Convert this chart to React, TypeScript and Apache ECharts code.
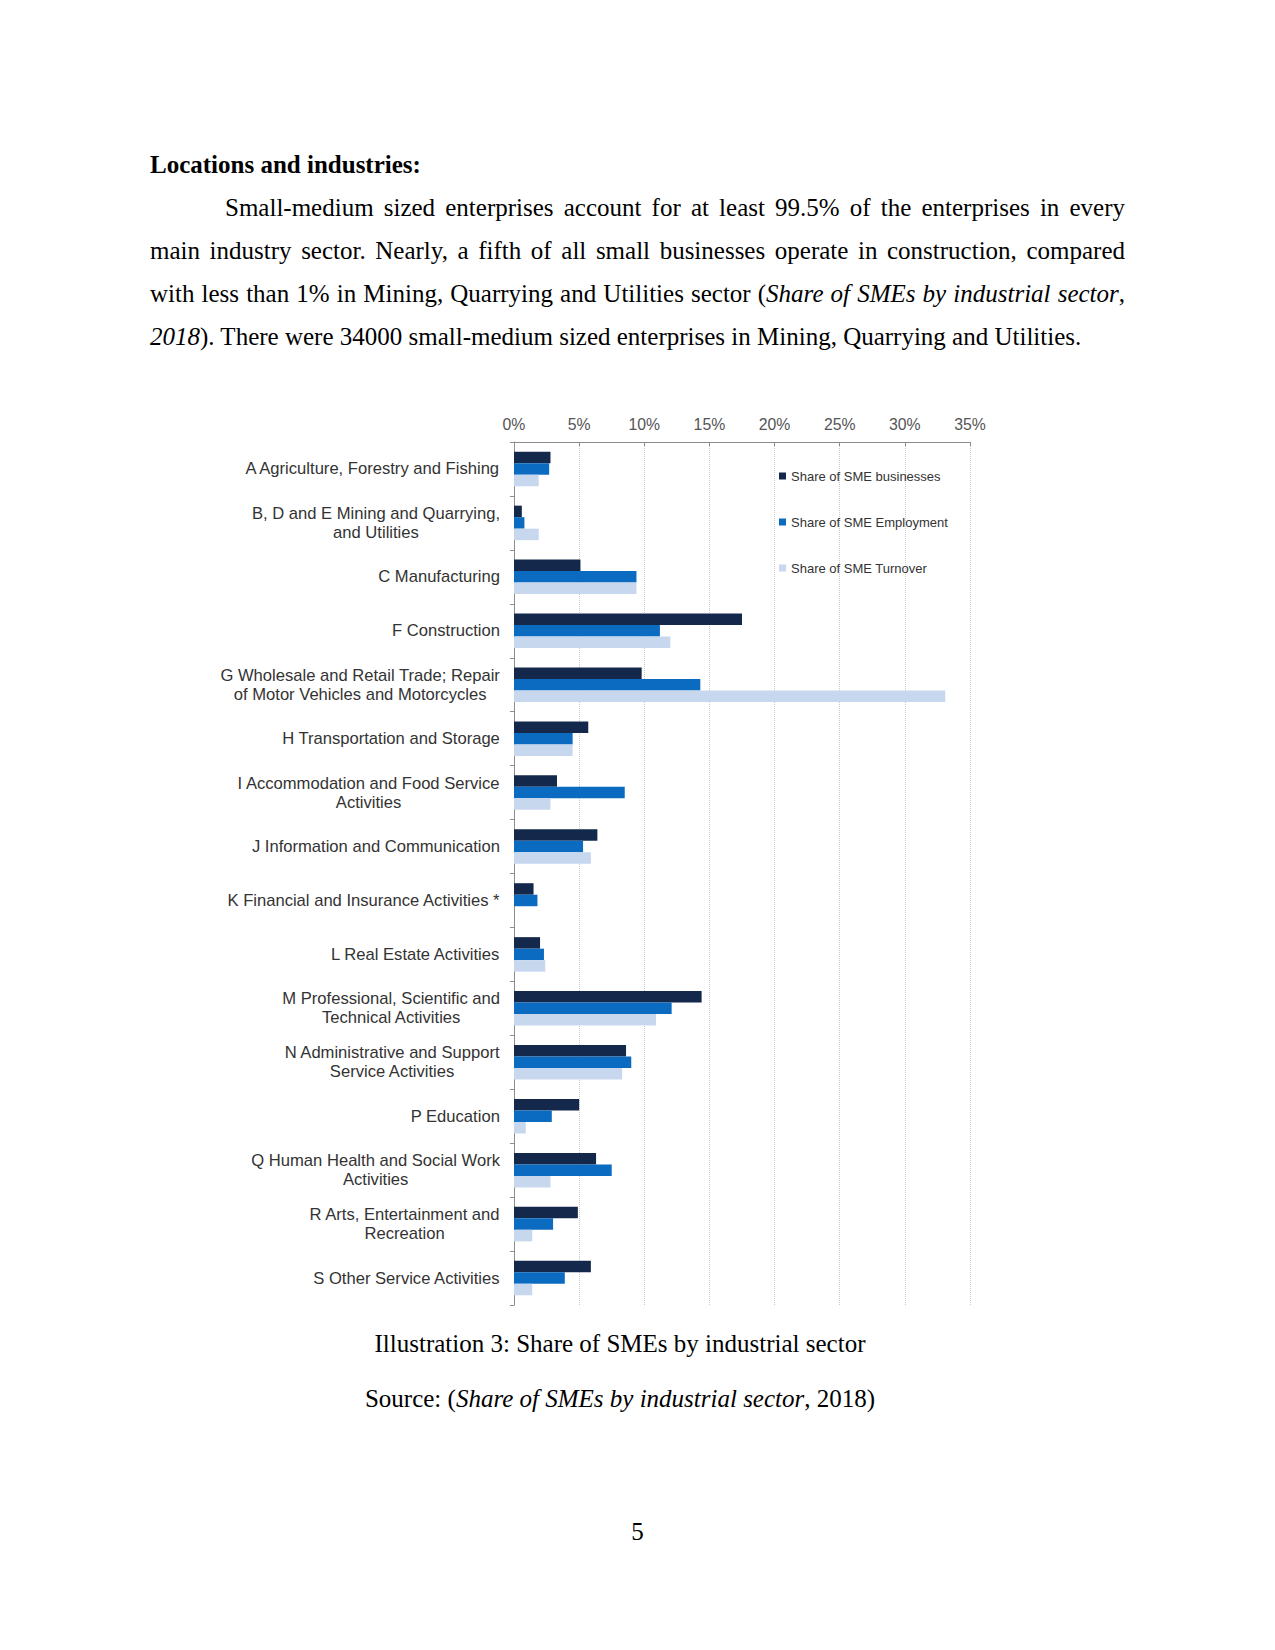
import React, { useEffect, useRef } from "react";
import * as echarts from "echarts";

const categories = [
  "A Agriculture, Forestry and Fishing",
  "B, D and E Mining and Quarrying,\nand Utilities",
  "C Manufacturing",
  "F Construction",
  "G Wholesale and Retail Trade; Repair\nof Motor Vehicles and Motorcycles",
  "H Transportation and Storage",
  "I Accommodation and Food Service\nActivities",
  "J Information and Communication",
  "K Financial and Insurance Activities *",
  "L Real Estate Activities",
  "M Professional, Scientific and\nTechnical Activities",
  "N Administrative and Support\nService Activities",
  "P Education",
  "Q Human Health and Social Work\nActivities",
  "R Arts, Entertainment and\nRecreation",
  "S Other Service Activities",
];
const seriesNames = [
  "Share of SME businesses",
  "Share of SME Employment",
  "Share of SME Turnover",
];
const businesses = [2.8, 0.6, 5.1, 17.5, 9.8, 5.7, 3.3, 6.4, 1.5, 2.0, 14.4, 8.6, 5.0, 6.3, 4.9, 5.9];
const employment = [2.7, 0.8, 9.4, 11.2, 14.3, 4.5, 8.5, 5.3, 1.8, 2.3, 12.1, 9.0, 2.9, 7.5, 3.0, 3.9];
const turnover = [1.9, 1.9, 9.4, 12.0, 33.1, 4.5, 2.8, 5.9, null, 2.4, 10.9, 8.3, 0.9, 2.8, 1.4, 1.4];
const axisMin = 0;
const axisMax = 35;
const axisStep = 5;

const colors = ["#14284b", "#0b6bc1", "#c7d7ee"];

function Chart() {
  const ref = useRef<HTMLDivElement>(null);
  useEffect(() => {
    if (!ref.current) return;
    const chart = echarts.init(ref.current, null, { renderer: "svg" });
    const sans = '"Liberation Sans", Arial, sans-serif';
    chart.setOption({
      animation: false,
      color: colors,
      grid: { left: 314, top: 47, width: 456, height: 863, containLabel: false },
      legend: {
        orient: "vertical",
        left: 574,
        top: 69,
        itemWidth: 7,
        itemHeight: 7,
        itemGap: 32,
        icon: "rect",
        data: seriesNames,
        textStyle: { fontFamily: sans, fontSize: 13, color: "#333", lineHeight: 14 },
      },
      xAxis: {
        type: "value",
        position: "top",
        min: axisMin,
        max: axisMax,
        interval: axisStep,
        axisLine: { show: true, lineStyle: { color: "#8c8c8c", width: 1 } },
        axisTick: { show: true, inside: true, length: 4, lineStyle: { color: "#8c8c8c" } },
        axisLabel: {
          formatter: "{value}%",
          fontFamily: sans,
          fontSize: 15.8,
          color: "#555",
          margin: 10,
        },
        splitLine: { show: true, lineStyle: { color: "#c8c8c8", type: "dotted", width: 1 } },
      },
      yAxis: {
        type: "category",
        inverse: true,
        data: categories,
        axisLine: { show: true, lineStyle: { color: "#8c8c8c", width: 1 } },
        axisTick: { show: true, length: 4, lineStyle: { color: "#8c8c8c" } },
        axisLabel: {
          margin: 14,
          interval: 0,
          align: "right",
          formatter: (v: string) => v.split("\n").map((l) => `{c|${l}}`).join("\n"),
          rich: {
            c: {
              align: "center",
              fontFamily: sans,
              fontSize: 16.6,
              lineHeight: 19,
              color: "#333",
            },
          },
        },
        splitLine: { show: false },
      },
      series: [
        { name: seriesNames[0], type: "bar", data: businesses, barGap: "0%", barCategoryGap: "36%" },
        { name: seriesNames[1], type: "bar", data: employment, barGap: "0%", barCategoryGap: "36%" },
        { name: seriesNames[2], type: "bar", data: turnover, barGap: "0%", barCategoryGap: "36%" },
      ],
    });
    return () => chart.dispose();
  }, []);
  return (
    <div
      ref={ref}
      style={{ position: "absolute", left: 200, top: 395, width: 800, height: 930 }}
    />
  );
}

export default function App() {
  const lineStyle: React.CSSProperties = {
    position: "absolute",
    left: 150,
    width: 975,
    lineHeight: "43px",
    textAlign: "justify",
    textAlignLast: "justify",
  };
  return (
    <div
      style={{
        position: "absolute",
        left: 0,
        top: 0,
        width: 1275,
        height: 1650,
        background: "#fff",
        fontFamily: '"Liberation Serif", "Times New Roman", serif',
        fontSize: 25,
        color: "#000",
      }}
    >
      <div style={{ position: "absolute", left: 150, top: 143, lineHeight: "43px", fontWeight: "bold" }}>
        Locations and industries:
      </div>
      <div style={{ ...lineStyle, top: 186, left: 225, width: 900 }}>
        Small-medium sized enterprises account for at least 99.5% of the enterprises in every
      </div>
      <div style={{ ...lineStyle, top: 229 }}>
        main industry sector. Nearly, a fifth of all small businesses operate in construction, compared
      </div>
      <div style={{ ...lineStyle, top: 272 }}>
        with less than 1% in Mining, Quarrying and Utilities sector (<i>Share of SMEs by industrial sector</i>,
      </div>
      <div style={{ ...lineStyle, top: 315, textAlign: "left", textAlignLast: "left" }}>
        <i>2018</i>). There were 34000 small-medium sized enterprises in Mining, Quarrying and Utilities.
      </div>
      <Chart />
      <div style={{ position: "absolute", left: 0, width: 1240, top: 1322, lineHeight: "43px", textAlign: "center" }}>
        Illustration 3: Share of SMEs by industrial sector
      </div>
      <div style={{ position: "absolute", left: 0, width: 1240, top: 1377, lineHeight: "43px", textAlign: "center" }}>
        Source: (<i>Share of SMEs by industrial sector</i>, 2018)
      </div>
      <div style={{ position: "absolute", left: 0, width: 1275, top: 1510, lineHeight: "43px", textAlign: "center" }}>
        5
      </div>
    </div>
  );
}
